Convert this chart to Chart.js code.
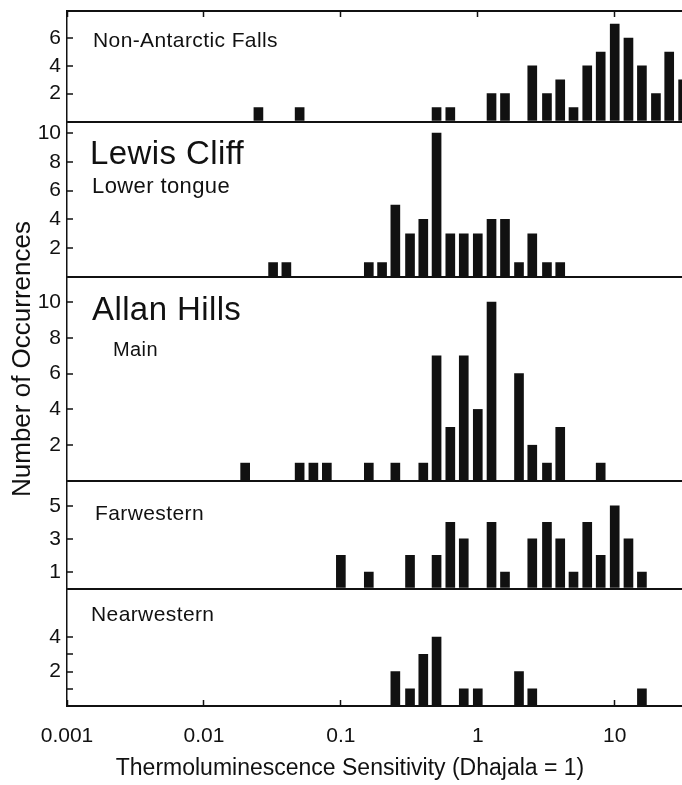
<!DOCTYPE html>
<html>
<head>
<meta charset="utf-8">
<script src="https://cdn.jsdelivr.net/npm/chart.js@4/dist/chart.umd.min.js"></script>
<style>
  html, body { margin: 0; padding: 0; background: #fff; }
  #wrap { position: relative; width: 682px; height: 785px; }
</style>
</head>
<body>
<div id="wrap"><canvas id="tlChart" width="682" height="785"></canvas></div>
<script>
// x axis: TL sensitivity, log decades
const decadeTicks = [0.001, 0.01, 0.1, 1, 10];
const decadeLabels = ['0.001', '0.01', '0.1', '1', '10'];
const xTitle = 'Thermoluminescence Sensitivity (Dhajala = 1)';
const yTitle = 'Number of Occurrences';

// Non-Antarctic Falls
const nonAntTL = [0.025, 0.05, 0.5, 0.63, 1.26, 1.58, 2.5, 3.2, 4.0, 5.0, 6.3, 7.9, 10, 12.6, 15.8, 20, 25, 31.6];
const nonAntN  = [1, 1, 1, 1, 2, 2, 4, 2, 3, 1, 4, 5, 7, 6, 4, 2, 5, 3];
const nonAntTicks = [2, 4, 6];

// Lewis Cliff, lower tongue
const lewisTL = [0.032, 0.04, 0.16, 0.2, 0.25, 0.32, 0.4, 0.5, 0.63, 0.79, 1.0, 1.26, 1.58, 2.0, 2.5, 3.2, 4.0];
const lewisN  = [1, 1, 1, 1, 5, 3, 4, 10, 3, 3, 3, 4, 4, 1, 3, 1, 1];
const lewisTicks = [2, 4, 6, 8, 10];

// Allan Hills, main
const allanTL = [0.02, 0.05, 0.063, 0.079, 0.16, 0.25, 0.4, 0.5, 0.63, 0.79, 1.0, 1.26, 2.0, 2.5, 3.2, 4.0, 7.9];
const allanN  = [1, 1, 1, 1, 1, 1, 1, 7, 3, 7, 4, 10, 6, 2, 1, 3, 1];
const allanTicks = [2, 4, 6, 8, 10];

// Farwestern
const farTL = [0.1, 0.16, 0.32, 0.5, 0.63, 0.79, 1.26, 1.58, 2.5, 3.2, 4.0, 5.0, 6.3, 7.9, 10, 12.6, 15.8];
const farN  = [2, 1, 2, 2, 4, 3, 4, 1, 3, 4, 3, 1, 4, 2, 5, 3, 1];
const farTicks = [1, 3, 5];

// Nearwestern
const nearTL = [0.25, 0.32, 0.4, 0.5, 0.79, 1.0, 2.0, 2.5, 15.8];
const nearN  = [2, 1, 3, 4, 1, 1, 2, 1, 1];
const nearTicks = [1, 2, 3, 4];
const nearLabelled = [2, 4];

const INK = '#111';
const FONT = "'Liberation Sans', Arial, Helvetica, sans-serif";
Chart.defaults.font.family = FONT;
Chart.defaults.color = INK;

// panels listed bottom to top: Chart.js stacks later left axes above earlier ones
const panels = [
  { id: 'yNear', tl: nearTL, n: nearN, ticks: nearTicks, labelled: nearLabelled, max: 6.83, weight: 117.5,
    names: [{ text: 'Nearwestern', x: 91, dy: 26.5, size: 21 }] },
  { id: 'yFar', tl: farTL, n: farN, ticks: farTicks, labelled: farTicks, max: 6.5, weight: 107.5,
    names: [{ text: 'Farwestern', x: 95, dy: 33, size: 21 }] },
  { id: 'yAllan', tl: allanTL, n: allanN, ticks: allanTicks, labelled: allanTicks, max: 11.4, weight: 204,
    names: [{ text: 'Allan Hills', x: 92, dy: 33.5, size: 33 }, { text: 'Main', x: 113, dy: 73, size: 20 }] },
  { id: 'yLewis', tl: lewisTL, n: lewisN, ticks: lewisTicks, labelled: lewisTicks, max: 10.8, weight: 155.5,
    names: [{ text: 'Lewis Cliff', x: 90, dy: 33.5, size: 33 }, { text: 'Lower tongue', x: 92, dy: 65.5, size: 22 }] },
  { id: 'yNonAnt', tl: nonAntTL, n: nonAntN, ticks: nonAntTicks, labelled: nonAntTicks, max: 7.95, weight: 110.5,
    names: [{ text: 'Non-Antarctic Falls', x: 93, dy: 30.5, size: 21 }] }
];

function decadeAxis(position) {
  return {
    type: 'logarithmic',
    position: position,
    min: 0.001,
    max: 31,
    offset: false,
    afterBuildTicks: s => { s.ticks = decadeTicks.map(v => ({ value: v })); },
    grid: { offset: false, drawOnChartArea: false, tickLength: -6, tickColor: INK, tickWidth: 1.5 },
    border: { color: INK, width: 2 }
  };
}

const scales = {};
scales.x = Object.assign(decadeAxis('bottom'), {
  afterFit: s => { s.height = 79; },
  ticks: { autoSkip: false, maxRotation: 0, font: { size: 21 }, color: INK, padding: 24,
           callback: (v, i) => decadeLabels[i] }
});
scales.x2 = Object.assign(decadeAxis('top'), {
  afterFit: s => { s.height = 0; },
  ticks: { display: false }
});

panels.forEach(p => {
  scales[p.id] = {
    type: 'linear',
    position: 'left',
    stack: 'panels',
    stackWeight: p.weight,
    min: 0,
    max: p.max,
    afterBuildTicks: s => { s.ticks = [0].concat(p.ticks).map(v => ({ value: v })); },
    afterFit: s => { s.width = 67; s.paddingTop = 0; s.paddingBottom = 0; },
    ticks: { autoSkip: false, font: { size: 21 }, color: INK, padding: 12,
             callback: v => p.labelled.includes(v) ? String(v) : '' },
    grid: {
      color: c => (c.tick && c.tick.value === 0) ? INK : 'rgba(0,0,0,0)',
      lineWidth: c => (c.tick && c.tick.value === 0) ? 2 : 0,
      tickColor: INK, tickWidth: 1.5, tickLength: -6
    },
    border: { color: INK, width: 1.5 }
  };
});

// panel names, axis titles
const panelText = {
  id: 'panelText',
  afterDraw(chart) {
    const ctx = chart.ctx;
    ctx.save();
    ctx.fillStyle = INK;
    ctx.textBaseline = 'middle';
    ctx.letterSpacing = '0.4px';
    panels.forEach(p => {
      const s = chart.scales[p.id];
      p.names.forEach(t => {
        ctx.font = t.size + 'px ' + FONT;
        ctx.fillText(t.text, t.x, s.top + t.dy);
      });
    });
    ctx.letterSpacing = '0px';
    ctx.textAlign = 'center';
    ctx.font = '23px ' + FONT;
    ctx.fillText(xTitle, 350, chart.scales.x.bottom - 16);
    ctx.translate(23, 359);
    ctx.rotate(-Math.PI / 2);
    ctx.font = '26px ' + FONT;
    ctx.fillText(yTitle, 0, 0);
    ctx.restore();
  }
};

new Chart(document.getElementById('tlChart'), {
  type: 'bar',
  data: {
    datasets: panels.map(p => ({
      label: p.id,
      xAxisID: 'x',
      yAxisID: p.id,
      data: p.tl.map((v, i) => ({ x: v, y: p.n[i] })),
      backgroundColor: INK,
      borderWidth: 0,
      barThickness: 9,
      grouped: false
    }))
  },
  options: {
    responsive: false,
    animation: false,
    layout: { padding: { top: 11, left: 0, right: 0, bottom: 0 } },
    plugins: { legend: { display: false }, tooltip: { enabled: false } },
    scales: scales
  },
  plugins: [panelText]
});
</script>
</body>
</html>
